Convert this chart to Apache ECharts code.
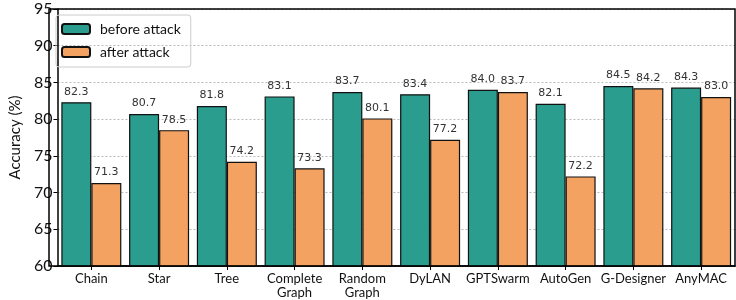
<!DOCTYPE html>
<html>
<head>
<meta charset="utf-8">
<script src="https://cdn.jsdelivr.net/npm/echarts@6/dist/echarts.min.js"></script>
<style>
  html, body { margin: 0; padding: 0; background: #fff; }
  #chart { width: 736px; height: 300px; }
</style>
</head>
<body>
<div id="chart"></div>
<script>
var categories = ['Chain', 'Star', 'Tree', 'Complete\nGraph', 'Random\nGraph', 'DyLAN', 'GPTSwarm', 'AutoGen', 'G-Designer', 'AnyMAC'];
var beforeAttack = [82.3, 80.7, 81.8, 83.1, 83.7, 83.4, 84.0, 82.1, 84.5, 84.3];
var afterAttack = [71.3, 78.5, 74.2, 73.3, 80.1, 77.2, 83.7, 72.2, 84.2, 83.0];

var mainFont = 'Lato, "Open Sans", sans-serif';
var numFont = '"DejaVu Sans", sans-serif';

var chart = echarts.init(document.getElementById('chart'));

function barSeries(name, data, color) {
	return {
		name: name,
		type: 'bar',
		data: data,
		barWidth: 30,
		barGap: '0%',
		itemStyle: { color: color, borderColor: '#111', borderWidth: 1.2 },
		label: {
			show: true,
			position: 'top',
			distance: 5,
			fontFamily: numFont,
			fontSize: 11,
			color: '#333',
			formatter: function (p) { return p.value.toFixed(1); }
		}
	};
}

chart.setOption({
	animation: false,
	grid: { left: 49, right: 1, top: 9, bottom: 34, containLabel: false },
	legend: {
		left: 56,
		top: 15,
		orient: 'vertical',
		itemWidth: 28,
		itemHeight: 10,
		itemGap: 9,
		padding: [7, 10, 8, 5],
		borderColor: '#ccc',
		borderWidth: 1,
		borderRadius: 3,
		textStyle: { fontFamily: mainFont, fontSize: 14, color: '#111', padding: [0, 0, 0, 5] },
		data: ['before attack', 'after attack']
	},
	xAxis: {
		type: 'category',
		data: categories,
		axisLine: { show: true, lineStyle: { color: '#000', width: 1.5 } },
		axisTick: { show: true, alignWithLabel: true, length: 4, lineStyle: { color: '#000' } },
		axisLabel: { fontFamily: mainFont, fontSize: 13, color: '#111', margin: 6, lineHeight: 14, interval: 0 }
	},
	yAxis: {
		type: 'value',
		min: 60,
		max: 95,
		interval: 5,
		name: 'Accuracy (%)',
		nameLocation: 'middle',
		nameGap: 33,
		nameTextStyle: { fontFamily: mainFont, fontSize: 15, color: '#111' },
		axisLine: { show: true, lineStyle: { color: '#000', width: 1.5 } },
		axisTick: { show: true, length: 4, lineStyle: { color: '#000' } },
		axisLabel: { fontFamily: mainFont, fontSize: 16, color: '#111', margin: 5 },
		splitLine: { show: true, lineStyle: { color: '#aaa', type: [2, 2], width: 0.8 } }
	},
	graphic: [{
		type: 'rect',
		shape: { x: 49, y: 9, width: 686, height: 257 },
		style: { fill: 'none', stroke: '#000', lineWidth: 1.5 },
		silent: true,
		z: 10
	}],
	series: [
		barSeries('before attack', beforeAttack, '#2a9d8f'),
		barSeries('after attack', afterAttack, '#f4a261')
	]
});
</script>
</body>
</html>
